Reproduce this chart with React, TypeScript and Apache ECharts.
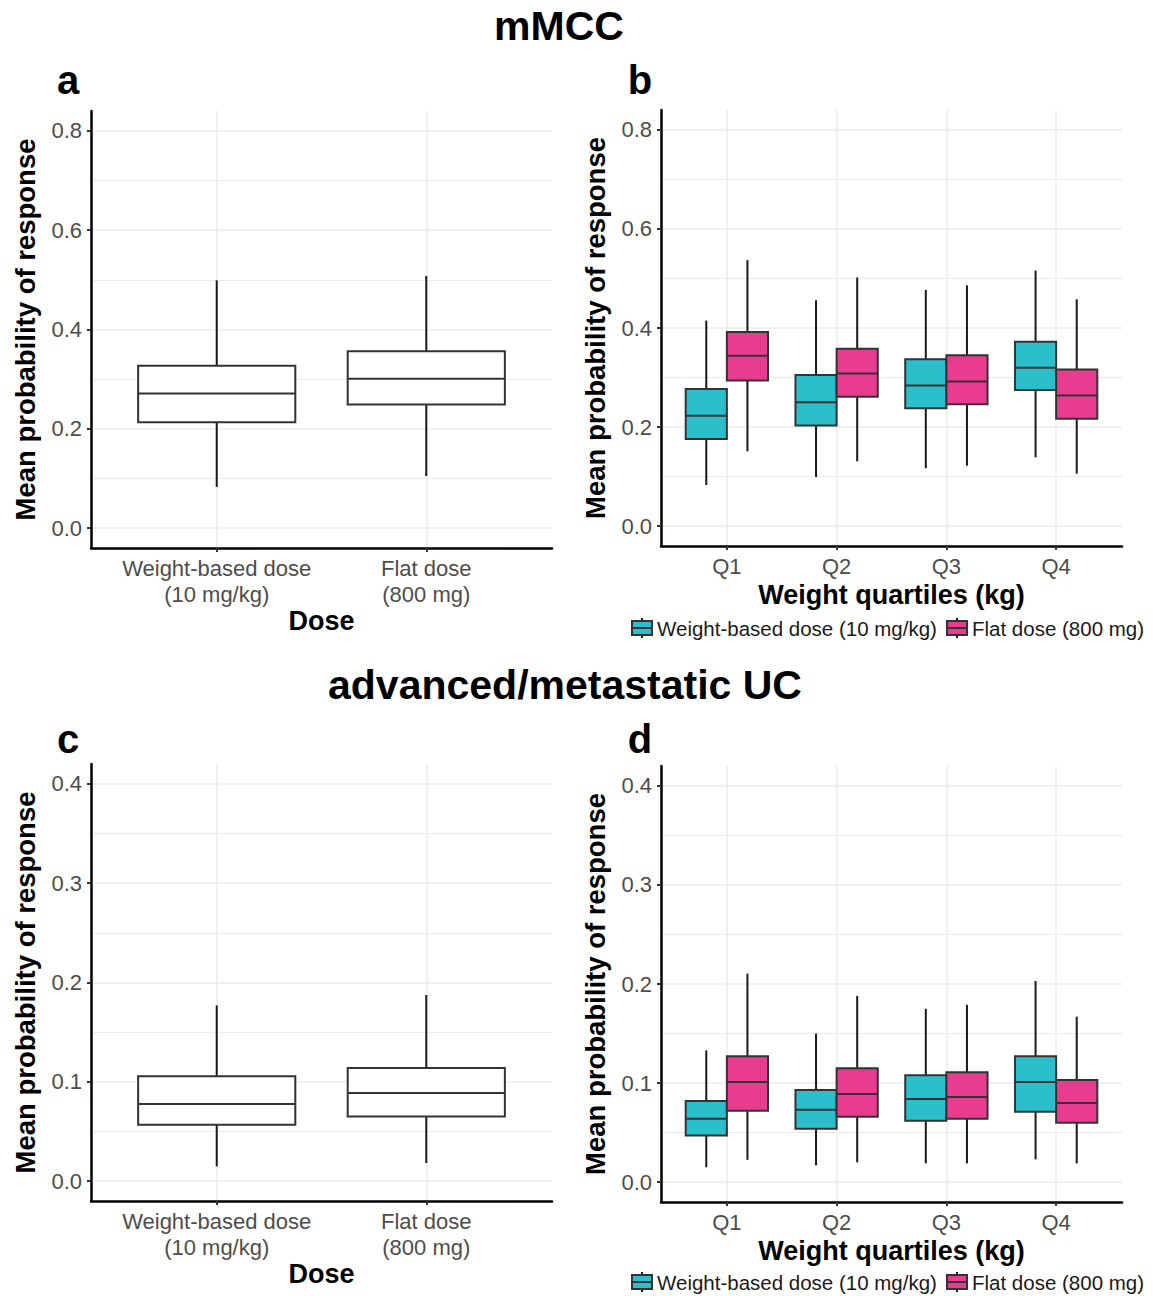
import React, { useEffect, useRef } from "react";
import * as echarts from "echarts";

// ---------- data ----------
const doseCats = ["Weight-based dose\n(10 mg/kg)", "Flat dose\n(800 mg)"];
const quartileCats = ["Q1", "Q2", "Q3", "Q4"];
const yTicksMMCC = [0, 0.2, 0.4, 0.6, 0.8];
const yMinorMMCC = [0.1, 0.3, 0.5, 0.7];
const yTicksUC = [0, 0.1, 0.2, 0.3, 0.4];
const yMinorUC = [0.05, 0.15, 0.25, 0.35];

// [min, q1, median, q3, max]
const mmccByDose = [
  [0.083, 0.213, 0.271, 0.327, 0.499],
  [0.105, 0.249, 0.301, 0.356, 0.508],
];
const mmccWeightBased = [
  [0.083, 0.176, 0.223, 0.277, 0.415],
  [0.099, 0.203, 0.25, 0.305, 0.456],
  [0.117, 0.238, 0.284, 0.337, 0.477],
  [0.139, 0.275, 0.32, 0.372, 0.516],
];
const mmccFlat = [
  [0.151, 0.294, 0.344, 0.392, 0.537],
  [0.131, 0.261, 0.308, 0.358, 0.502],
  [0.122, 0.246, 0.292, 0.345, 0.486],
  [0.106, 0.217, 0.264, 0.316, 0.458],
];
const ucByDose = [
  [0.0148, 0.0567, 0.0777, 0.1056, 0.177],
  [0.0182, 0.065, 0.0887, 0.1138, 0.1874],
];
const ucWeightBased = [
  [0.015, 0.047, 0.064, 0.082, 0.133],
  [0.017, 0.054, 0.073, 0.093, 0.15],
  [0.019, 0.062, 0.084, 0.108, 0.175],
  [0.023, 0.071, 0.101, 0.127, 0.203],
];
const ucFlat = [
  [0.0225, 0.072, 0.101, 0.127, 0.2105],
  [0.02, 0.066, 0.089, 0.115, 0.188],
  [0.019, 0.064, 0.086, 0.111, 0.179],
  [0.019, 0.06, 0.08, 0.103, 0.167],
];

const legendLabels = ["Weight-based dose (10 mg/kg)", "Flat dose (800 mg)"];

// ---------- styles ----------
const FONT = '"Liberation Sans", Arial, Helvetica, sans-serif';
const TEAL = "#2bbfcc";
const PINK = "#e93b8f";
const GRID = "#ebebeb";
const OUTLINE = "#333333";

function makeRender(boxW: number, fill: string) {
  return (params: any, api: any) => {
    const x = api.value(0);
    const vMin = api.value(1);
    const vQ1 = api.value(2);
    const vMed = api.value(3);
    const vQ3 = api.value(4);
    const vMax = api.value(5);
    const w = api.size([boxW, 0])[0];
    const pMin = api.coord([x, vMin]);
    const pQ1 = api.coord([x, vQ1]);
    const pMed = api.coord([x, vMed]);
    const pQ3 = api.coord([x, vQ3]);
    const pMax = api.coord([x, vMax]);
    const cx = pMed[0];
    const ls = { stroke: "#1a1a1a", lineWidth: 2 };
    return {
      type: "group",
      children: [
        { type: "line", shape: { x1: cx, y1: pMax[1], x2: cx, y2: pQ3[1] }, style: ls },
        { type: "line", shape: { x1: cx, y1: pQ1[1], x2: cx, y2: pMin[1] }, style: ls },
        {
          type: "rect",
          shape: { x: cx - w / 2, y: pQ3[1], width: w, height: pQ1[1] - pQ3[1] },
          style: { fill, stroke: OUTLINE, lineWidth: 2 },
        },
        {
          type: "line",
          shape: { x1: cx - w / 2, y1: pMed[1], x2: cx + w / 2, y2: pMed[1] },
          style: { stroke: OUTLINE, lineWidth: 2 },
        },
      ],
    };
  };
}

function mkX(gi: number, cats: string[], name: string, nameGap: number) {
  const vals = cats.map((_, i) => i + 1);
  return {
    type: "value",
    gridIndex: gi,
    min: 0.4,
    max: cats.length + 0.6,
    name,
    nameLocation: "middle",
    nameGap,
    nameTextStyle: { fontFamily: FONT, fontSize: 27, fontWeight: "bold", color: "#000" },
    axisLine: { show: true, onZero: false, lineStyle: { color: "#000", width: 2.5 } },
    axisTick: { show: true, customValues: vals, length: 4, lineStyle: { color: OUTLINE, width: 2 } },
    axisLabel: {
      show: true,
      customValues: vals,
      formatter: (v: number) => cats[Math.round(v) - 1] ?? "",
      fontFamily: FONT,
      fontSize: 22,
      lineHeight: 26,
      color: "#4d4d4d",
      margin: 7,
    },
    splitLine: { show: true, lineStyle: { color: GRID, width: 1.5 } },
  };
}

function mkY(gi: number, ticks: number[], lo: number, hi: number, name: string) {
  return {
    type: "value",
    gridIndex: gi,
    min: lo,
    max: hi,
    name,
    nameLocation: "middle",
    nameRotate: 90,
    nameGap: 52,
    nameTextStyle: { fontFamily: FONT, fontSize: 27.5, fontWeight: "bold", color: "#000" },
    axisLine: { show: true, onZero: false, lineStyle: { color: "#000", width: 2.5 } },
    axisTick: { show: true, customValues: ticks, length: 4, lineStyle: { color: OUTLINE, width: 2 } },
    axisLabel: {
      show: true,
      customValues: ticks,
      formatter: (v: number) => v.toFixed(1),
      fontFamily: FONT,
      fontSize: 22,
      color: "#4d4d4d",
      margin: 9,
    },
    splitLine: { show: true, lineStyle: { color: GRID, width: 1.5 } },
  };
}

function mkYMinor(gi: number, minors: number[], lo: number, hi: number) {
  return {
    type: "value",
    gridIndex: gi,
    min: lo,
    max: hi,
    position: "left",
    axisLine: { show: false },
    axisTick: { show: false, customValues: minors },
    axisLabel: { show: false, customValues: minors },
    splitLine: { show: true, lineStyle: { color: GRID, width: 1.2 } },
  };
}

function legendAt(yc: number) {
  const items = [
    { x: 632, color: TEAL, label: legendLabels[0] },
    { x: 947, color: PINK, label: legendLabels[1] },
  ];
  const out: any[] = [];
  items.forEach((it) => {
    const cx = it.x + 10;
    out.push({ type: "line", shape: { x1: cx, y1: yc - 10, x2: cx, y2: yc + 10 }, style: { stroke: "#1a1a1a", lineWidth: 2 } });
    out.push({ type: "rect", shape: { x: it.x, y: yc - 7, width: 20, height: 14 }, style: { fill: it.color, stroke: OUTLINE, lineWidth: 2 } });
    out.push({ type: "line", shape: { x1: it.x, y1: yc, x2: it.x + 20, y2: yc }, style: { stroke: OUTLINE, lineWidth: 2 } });
    out.push({
      type: "text",
      x: it.x + 25,
      y: yc,
      style: { text: it.label, fontFamily: FONT, fontSize: 20.5, fill: "#1a1a1a", align: "left", verticalAlign: "middle" },
    });
  });
  return out;
}

function txt(text: string, x: number, y: number, size: number) {
  return {
    type: "text",
    x,
    y,
    style: { text, fontFamily: FONT, fontSize: size, fontWeight: "bold", fill: "#000", align: "center", verticalAlign: "middle" },
  };
}

export default function App() {
  const ref = useRef<HTMLDivElement>(null);
  useEffect(() => {
    if (!ref.current) return;
    const chart = echarts.init(ref.current, null, { renderer: "svg" });
    const yName = "Mean probability of response";

    const dodge = 0.1875;
    const series: any[] = [
      {
        type: "custom",
        name: "mMCC by dose",
        xAxisIndex: 0,
        yAxisIndex: 0,
        renderItem: makeRender(0.75, "#ffffff"),
        data: mmccByDose.map((d, i) => [i + 1, ...d]),
      },
      {
        type: "custom",
        name: legendLabels[0],
        xAxisIndex: 1,
        yAxisIndex: 1,
        renderItem: makeRender(0.375, TEAL),
        data: mmccWeightBased.map((d, i) => [i + 1 - dodge, ...d]),
      },
      {
        type: "custom",
        name: legendLabels[1],
        xAxisIndex: 1,
        yAxisIndex: 1,
        renderItem: makeRender(0.375, PINK),
        data: mmccFlat.map((d, i) => [i + 1 + dodge, ...d]),
      },
      {
        type: "custom",
        name: "UC by dose",
        xAxisIndex: 2,
        yAxisIndex: 2,
        renderItem: makeRender(0.75, "#ffffff"),
        data: ucByDose.map((d, i) => [i + 1, ...d]),
      },
      {
        type: "custom",
        name: legendLabels[0] + " UC",
        xAxisIndex: 3,
        yAxisIndex: 3,
        renderItem: makeRender(0.375, TEAL),
        data: ucWeightBased.map((d, i) => [i + 1 - dodge, ...d]),
      },
      {
        type: "custom",
        name: legendLabels[1] + " UC",
        xAxisIndex: 3,
        yAxisIndex: 3,
        renderItem: makeRender(0.375, PINK),
        data: ucFlat.map((d, i) => [i + 1 + dodge, ...d]),
      },
    ];

    chart.setOption({
      animation: false,
      backgroundColor: "#ffffff",
      grid: [
        { left: 91, top: 111, width: 461, height: 437 },
        { left: 661, top: 110, width: 461, height: 436 },
        { left: 91, top: 764, width: 461, height: 437 },
        { left: 661, top: 766, width: 461, height: 436 },
      ],
      xAxis: [
        mkX(0, doseCats, "Dose", 50),
        mkX(1, quartileCats, "Weight quartiles (kg)", 35),
        mkX(2, doseCats, "Dose", 50),
        mkX(3, quartileCats, "Weight quartiles (kg)", 35),
      ],
      yAxis: [
        mkY(0, yTicksMMCC, -0.04, 0.84, yName),
        mkY(1, yTicksMMCC, -0.04, 0.84, yName),
        mkY(2, yTicksUC, -0.02, 0.42, yName),
        mkY(3, yTicksUC, -0.02, 0.42, yName),
        mkYMinor(0, yMinorMMCC, -0.04, 0.84),
        mkYMinor(1, yMinorMMCC, -0.04, 0.84),
        mkYMinor(2, yMinorUC, -0.02, 0.42),
        mkYMinor(3, yMinorUC, -0.02, 0.42),
      ],
      graphic: [
        txt("mMCC", 559, 26, 41),
        txt("advanced/metastatic UC", 565, 685, 41),
        txt("a", 68, 80, 40),
        txt("b", 640, 80, 40),
        txt("c", 68, 739, 40),
        txt("d", 640, 739, 40),
        ...legendAt(628),
        ...legendAt(1282),
      ],
      series,
    });
    return () => chart.dispose();
  }, []);
  return (
    <div
      ref={ref}
      style={{ position: "absolute", left: 0, top: 0, width: 1153, height: 1296, background: "#fff" }}
    />
  );
}
